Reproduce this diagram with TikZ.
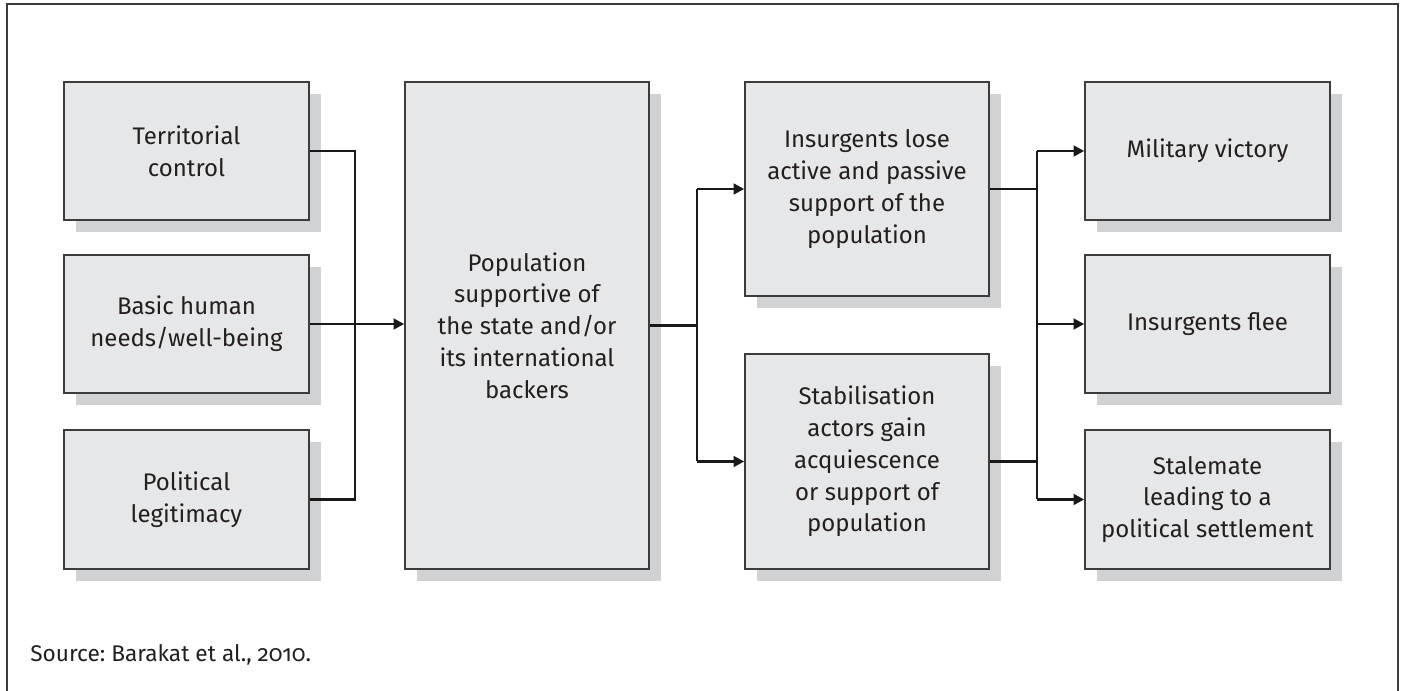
\documentclass[tikz,border=0pt]{standalone}
\usepackage{fontspec}
\setmainfont{Fira Sans}[Numbers=OldStyle]
\usetikzlibrary{arrows.meta,shadows}
\definecolor{txt}{HTML}{231F20}
\definecolor{boxfill}{HTML}{E6E7E8}
\definecolor{shadowc}{HTML}{D1D2D4}
\definecolor{edge}{HTML}{3C3C3C}
\tikzset{
  box/.style 2 args={draw=edge, line width=1.2pt, fill=boxfill, align=center,
    text=txt, font=\fontsize{18}{23.8}\selectfont, inner sep=0pt,
    minimum width=#1*0.75pt, minimum height=#2*0.75pt,
    drop shadow={shadow xshift=8.8pt, shadow yshift=-8.8pt, fill=shadowc, opacity=1, draw=none}},
  conn/.style={line width=2pt, draw=black!90},
  arr/.style={conn, -{Triangle[length=8pt, width=8pt]}}
}
\frenchspacing
\begin{document}
\begin{tikzpicture}[x=0.75pt, y=-0.75pt]
\useasboundingbox (0,0) rectangle (1404,691);
\draw[line width=1.2pt, draw=edge] (7,691) -- (7,4) -- (1398,4) -- (1398,691);

\node[box={245}{138}] (terr) at (186.5,151) {Territorial\\control};
\node[box={245}{138}] (basic) at (186.5,324) {Basic human\\needs/well-being};
\node[box={245}{139}] (polit) at (186.5,499.5) {Political\\legitimacy};
\node[box={244}{487}] (pop) at (527,325.5) {Population\\supportive of\\the state and/or\\its international\\backers};
\node[box={244}{214}] (lose) at (867,189) {Insurgents lose\\active and passive\\support of the\\population};
\node[box={244}{215}] (stab) at (867,461.5) {Stabilisation\\actors gain\\acquiescence\\or support of\\population};
\node[box={245}{138}] (mil) at (1207.5,151) {Military victory};
\node[box={245}{138}] (flee) at (1207.5,324) {Insurgents flee};
\node[box={245}{139}] (stale) at (1207.5,499.5) {Stalemate\\leading to a\\political settlement};

\coordinate (j1) at (355,151);
\coordinate (j2) at (355,499.5);
\coordinate (j3) at (697,325.5);
\coordinate (j4) at (1037,151);
\coordinate (j5) at (1037,499.5);

\draw[conn] (terr.east) -- (j1) -- (j2) -- (polit.east);
\draw[arr] (basic.east) -- (pop.west |- basic.east);
\draw[conn] (pop.east |- j3) -- (j3);
\draw[conn] (j3 |- lose.west) -- (j3 |- stab.west);
\draw[arr] (j3 |- lose.west) -- (lose.west);
\draw[arr] (j3 |- stab.west) -- (stab.west);
\draw[conn] (lose.east) -- (j4 |- lose.east);
\draw[conn] (stab.east) -- (j4 |- stab.east);
\draw[conn] (j4) -- (j5);
\draw[arr] (j4) -- (mil.west);
\draw[arr] (j4 |- flee.west) -- (flee.west);
\draw[arr] (j5) -- (stale.west);

\node[anchor=west, text=txt, font=\fontsize{17}{20}\selectfont, inner sep=0pt] (src) at (30,655) {Source: Barakat et al., 2010.};
\end{tikzpicture}
\end{document}
